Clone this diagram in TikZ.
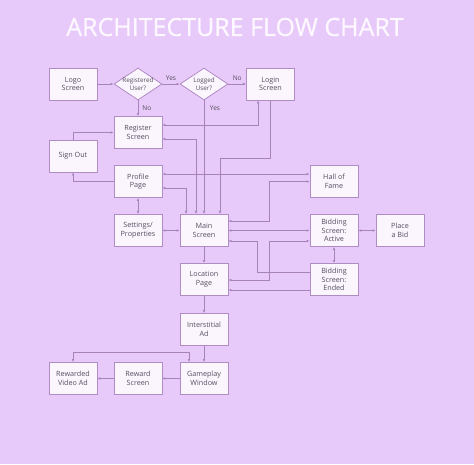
\documentclass[tikz,border=0pt]{standalone}
\usepackage{fontspec}
\setmainfont{Open Sans}
\newfontfamily\titlefont[FakeBold=0.6]{Open Sans}
\usetikzlibrary{shapes.geometric,arrows.meta,calc}
\definecolor{bg}{HTML}{E8CAFA}
\definecolor{boxfill}{HTML}{FBF5FE}
\definecolor{boxline}{HTML}{B08CC4}
\definecolor{conn}{HTML}{A783BA}
\definecolor{txt}{HTML}{555060}
\definecolor{ttl}{HTML}{FDF7FF}
\begin{document}
\begin{tikzpicture}[x=1pt,y=-1pt,
  >={Latex[length=3pt,width=2.6pt]},
  box/.style={draw=boxline,fill=boxfill,line width=0.8pt,minimum width=48pt,minimum height=32pt,inner sep=1pt,align=center,font=\fontsize{7.2}{8.6}\selectfont,text=txt},
  dia/.style={draw=boxline,fill=boxfill,line width=0.8pt,shape=diamond,minimum width=48pt,minimum height=32pt,inner sep=0pt},
  diatext/.style={align=center,font=\fontsize{6.3}{7.6}\selectfont,text=txt,inner sep=0pt},
  lbl/.style={font=\fontsize{6.6}{7.5}\selectfont,text=txt,inner sep=0pt},
  conn/.style={draw=conn,line width=0.7pt}]
\fill[bg] (0,0) rectangle (474,464);
\useasboundingbox (0,0) rectangle (474,464);
\node[font=\titlefont\fontsize{25}{28}\selectfont,text=ttl] (title) at (235,27) {ARCHITECTURE FLOW CHART};

% nodes
\node[box] (logo) at (73,84) {Logo\\Screen};
\node[dia, label={[diatext]center:Registered\\User?}] (regd) at (138,84) {};
\node[dia, label={[diatext]center:Logged\\User?}] (logd) at (204,84) {};
\node[box] (login) at (270.5,84) {Login\\Screen};
\node[box] (register) at (138,132.5) {Register\\Screen};
\node[box] (signout) at (73,156) {Sign Out};
\node[box] (profile) at (138,181.5) {Profile\\Page};
\node[box] (hof) at (334,181.5) {Hall of\\Fame};
\node[box] (settings) at (138,230.5) {Settings/\\Properties};
\node[box] (main) at (204,230.5) {Main\\Screen};
\node[box] (bidA) at (334,230.5) {Bidding\\Screen:\\Active};
\node[box] (bid) at (400,230.5) {Place\\a Bid};
\node[box] (loc) at (204,279.5) {Location\\Page};
\node[box] (bidE) at (334,279.5) {Bidding\\Screen:\\Ended};
\node[box] (inter) at (204,329.5) {Interstitial\\Ad};
\node[box] (game) at (204,378.5) {Gameplay\\Window};
\node[box] (reward) at (138,378.5) {Reward\\Screen};
\node[box] (rva) at (73,378.5) {Rewarded\\Video Ad};

% connectors
\draw[conn,->] (logo.east) -- (regd.west);
\draw[conn,->] (regd.east) -- node[lbl,above=3pt] (yes1) {Yes} (logd.west);
\draw[conn,->] (logd.east) -- node[lbl,above=3pt] (no1) {No} (login.west);
\draw[conn,->] (regd.south) -- node[lbl,right=4pt] (no2) {No} (register.north);
\draw[conn,->] (logd.south) -- (main.north);
\node[lbl] (yes2) at (215,108) {Yes};
\draw[conn,<->] (register.east |- 0,125) -| (login.south -| 258,0);
\draw[conn,<->] (register.east |- 0,139) -| (main.north -| 196,0);
\draw[conn,->] (login.south) |- (220,158) -- (main.north -| 220,0);
\draw[conn,->] (signout.north) |- (register.west);
\draw[conn,->] (profile.west) -| (signout.south);
\draw[conn,<->] (profile.east |- 0,174) -- (hof.west |- 0,174);
\draw[conn,<->] (profile.east |- 0,188) -| (main.north -| 186,0);
\draw[conn,<->] (hof.west) -| (269,221) -- (main.east |- 0,221);
\draw[conn,<->] (profile.south) -- (settings.north);
\draw[conn,<->] (settings.east) -- (main.west);
\draw[conn,<->] (main.east) -- (bidA.west);
\draw[conn,->] (bidE.west |- 0,272) -| (257,241) -- (main.east |- 0,241);
\draw[conn,<->] (loc.east |- 0,280) -| (269,241) -- (bidA.west |- 0,241);
\draw[conn,->] (bidE.west |- 0,290) -- (loc.east |- 0,290);
\draw[conn,<->] (bidA.south) -- (bidE.north);
\draw[conn,<->] (bidA.east) -- (bid.west);
\draw[conn,->] (main.south) -- (loc.north);
\draw[conn,->] (loc.south) -- (inter.north);
\draw[conn,->] (inter.south) -- (game.north);
\draw[conn,->] (game.west) -- (reward.east);
\draw[conn,->] (reward.west) -- (rva.east);
\draw[conn,<->] (rva.north) |- (189,352) -- (game.north -| 189,0);
\end{tikzpicture}
\end{document}
